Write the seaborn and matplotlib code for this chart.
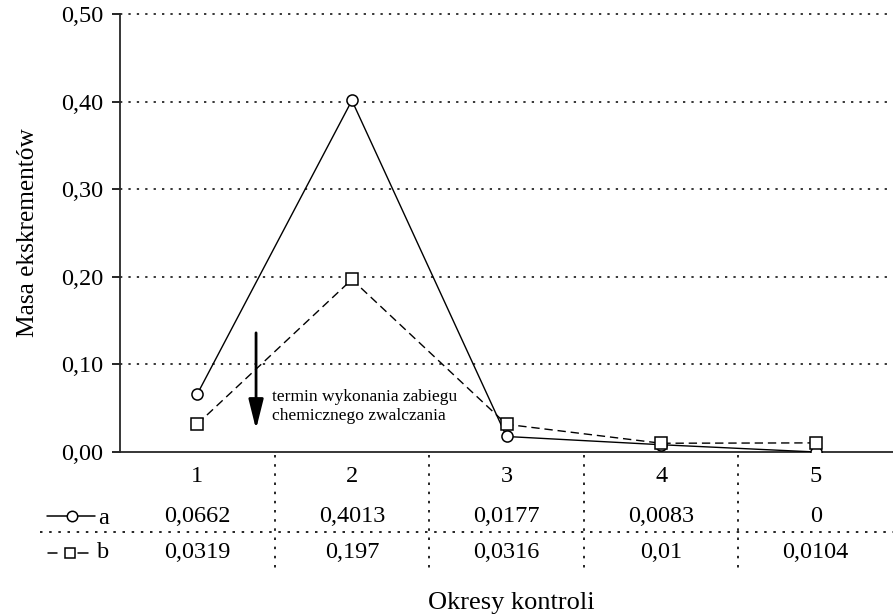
import matplotlib
matplotlib.use("Agg")
import matplotlib.pyplot as plt
import matplotlib.transforms as mtransforms
from matplotlib.lines import Line2D
import seaborn as sns
import pandas as pd

# ---- data ----
okresy = [1, 2, 3, 4, 5]
seria_a = [0.0662, 0.4013, 0.0177, 0.0083, 0.0]
seria_b = [0.0319, 0.197, 0.0316, 0.01, 0.0104]
etykiety_a = ["0,0662", "0,4013", "0,0177", "0,0083", "0"]
etykiety_b = ["0,0319", "0,197", "0,0316", "0,01", "0,0104"]
y_ticks = [0.0, 0.1, 0.2, 0.3, 0.4, 0.5]
y_tick_labels = ["0,00", "0,10", "0,20", "0,30", "0,40", "0,50"]

df = pd.DataFrame({"okres": okresy, "a": seria_a, "b": seria_b})

# ---- style ----
sns.set_theme(style="ticks")
plt.rcParams["font.family"] = ["Liberation Serif", "DejaVu Serif"]
plt.rcParams["text.color"] = "black"
plt.rcParams["axes.labelcolor"] = "black"
plt.rcParams["xtick.color"] = "black"
plt.rcParams["ytick.color"] = "black"

FS = 17.5
DOT = (0, (1.5, 4))
W, H = 893, 616
fig = plt.figure(figsize=(W / 100, H / 100), dpi=100)
ax = fig.add_axes([120 / W, 1 - 452 / H, 1 - 120 / W, (452 - 14) / H])

sns.lineplot(data=df, x="okres", y="a", ax=ax, color="black", lw=1.0,
             marker="o", markersize=8, markerfacecolor="white",
             markeredgecolor="black", markeredgewidth=1.1, zorder=3)
sns.lineplot(data=df, x="okres", y="b", ax=ax, color="black", lw=1.0,
             linestyle=(0, (6, 3.5)), marker="s", markersize=8,
             markerfacecolor="white", markeredgecolor="black",
             markeredgewidth=1.1, zorder=3)

ax.set_xlim(0.5, 5.5)
ax.set_ylim(0, 0.5)
ax.set_yticks(y_ticks)
ax.set_yticklabels(y_tick_labels, fontsize=FS)
ax.set_xticks([])
ax.set_xlabel("")
ax.set_ylabel("Masa ekskrementów", fontsize=18.3)
ax.yaxis.set_label_coords(-0.105, 0.5)
ax.tick_params(axis="y", length=6, width=1.2, pad=6)
for y in y_ticks[1:]:
    ax.axhline(y, color="black", lw=1.1, ls=DOT, zorder=0, clip_on=False)
sns.despine(ax=ax, top=True, right=True)
ax.spines["left"].set_linewidth(1.3)
ax.spines["bottom"].set_linewidth(1.3)

# arrow + annotation
ax.annotate("", xy=(1.38, 0.026), xytext=(1.38, 0.136),
            arrowprops=dict(arrowstyle="-|>,head_length=1.2,head_width=0.3",
                            color="black", lw=2.0, mutation_scale=15,
                            shrinkA=0, shrinkB=0))
ax.text(1.483, 0.052, "termin wykonania zabiegu\nchemicznego zwalczania",
        fontsize=12.6, va="center", ha="left", linespacing=1.3)

# ---- data table below the axes ----
tr = mtransforms.blended_transform_factory(ax.transData, fig.transFigure)
def fy(px):
    return 1 - px / H

def fx(px):
    return px / W

for i, x in enumerate(okresy):
    fig.text(x, fy(476), str(x), transform=tr, ha="center", va="center", fontsize=FS)
    fig.text(x, fy(516), etykiety_a[i], transform=tr, ha="center", va="center", fontsize=FS)
    fig.text(x, fy(553), etykiety_b[i], transform=tr, ha="center", va="center", fontsize=FS)

for xb in [1.5, 2.5, 3.5, 4.5]:
    fig.add_artist(Line2D([xb, xb], [fy(455), fy(570)], transform=tr,
                          color="black", lw=1.2, ls=DOT))
fig.add_artist(Line2D([fx(40), 1.0], [fy(532), fy(532)], transform=fig.transFigure,
                      color="black", lw=1.2, ls=DOT))

# legend keys in table
fig.add_artist(Line2D([fx(47), fx(95)], [fy(516), fy(516)], transform=fig.transFigure,
                      color="black", lw=1.1))
fig.add_artist(Line2D([fx(72)], [fy(516)], transform=fig.transFigure, marker="o",
                      markersize=7.5, markerfacecolor="white", markeredgecolor="black",
                      markeredgewidth=1.1))
fig.text(fx(98), fy(518), "a", fontsize=FS, va="center", ha="left")
for x0, x1 in [(48, 57), (78, 88)]:
    fig.add_artist(Line2D([fx(x0), fx(x1)], [fy(553), fy(553)],
                          transform=fig.transFigure, color="black", lw=1.1))
fig.add_artist(Line2D([fx(70)], [fy(553)], transform=fig.transFigure, marker="s",
                      markersize=7.5, markerfacecolor="white", markeredgecolor="black",
                      markeredgewidth=1.1))
fig.text(fx(97), fy(553), "b", fontsize=FS, va="center", ha="left")

fig.text(fx(511), fy(603), "Okresy kontroli", fontsize=19, ha="center", va="center")

fig.savefig("out.png", dpi=100)
